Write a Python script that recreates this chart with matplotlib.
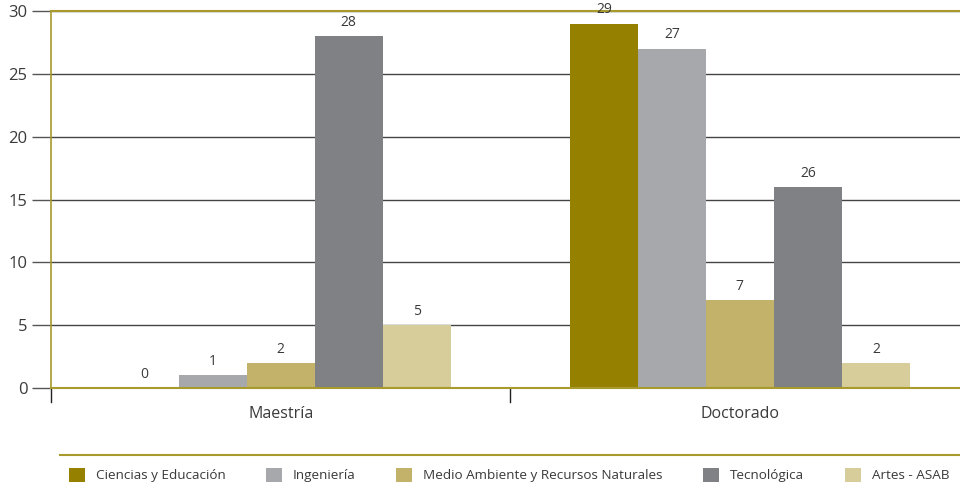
import matplotlib.pyplot as plt
from matplotlib.patches import Patch
from matplotlib.lines import Line2D
import numpy as np

plt.rcParams['font.family'] = ['Open Sans', 'DejaVu Sans']

niveles = ['Maestría', 'Doctorado']
facultades = ['Ciencias y Educación', 'Ingeniería', 'Medio Ambiente y Recursos Naturales',
              'Tecnológica', 'Artes - ASAB']
colores = ['#968000', '#a7a8ac', '#c2b26a', '#808184', '#d7cd9a']

# alturas de las barras (como aparecen) y etiquetas impresas
alturas = {
    'Ciencias y Educación': [0, 29],
    'Ingeniería': [1, 27],
    'Medio Ambiente y Recursos Naturales': [2, 7],
    'Tecnológica': [28, 16],
    'Artes - ASAB': [5, 2],
}
etiquetas = {
    'Ciencias y Educación': ['0', '29'],
    'Ingeniería': ['1', '27'],
    'Medio Ambiente y Recursos Naturales': ['2', '7'],
    'Tecnológica': ['28', '26'],
    'Artes - ASAB': ['5', '2'],
}

oro = '#a89a2c'
texto = '#3a3a3a'

fig = plt.figure(figsize=(9.6, 4.87), dpi=100)
ax = fig.add_axes([51 / 960, 1 - 388 / 487, (969.5 - 51) / 960, (388 - 11) / 487])

x = np.arange(len(niveles))
ancho = 0.148
for i, fac in enumerate(facultades):
    pos = x + (i - 2) * ancho
    ax.bar(pos, alturas[fac], width=ancho, color=colores[i], zorder=3)
    for p, h, et in zip(pos, alturas[fac], etiquetas[fac]):
        ax.text(p, h + 0.5, et, ha='center', va='bottom', fontsize=10, color=texto, zorder=4)

ax.set_xlim(-0.5, 1.5)
ax.set_ylim(0, 30)
ax.set_yticks(range(0, 31, 5))
ax.yaxis.grid(True, color='#444444', linewidth=1.0, zorder=1)
ax.set_axisbelow(True)

for s in ['right', 'bottom']:
    ax.spines[s].set_visible(False)
ax.spines['left'].set_color(oro)
ax.spines['top'].set_color(oro)
ax.spines['left'].set_linewidth(1.2)
ax.spines['top'].set_linewidth(1.5)
ax.axhline(0, color=oro, linewidth=1.5, zorder=5, clip_on=False)

ax.tick_params(axis='y', length=14, width=1, color='#555555', labelsize=12, labelcolor=texto, pad=3)
ax.set_xticks(x)
ax.set_xticklabels(niveles, fontsize=11.5, color=texto)
ax.tick_params(axis='x', length=0, pad=13)

# marcas de separacion de categorias
for b in [-0.5, 0.5, 1.5]:
    ax.plot([b, b], [0, -1.15], color='#222222', linewidth=1, clip_on=False)

# linea y leyenda inferior
fig.add_artist(Line2D([60 / 960, 1.0], [1 - 455 / 487, 1 - 455 / 487], color=oro, linewidth=1.5))
handles = [Patch(facecolor=c, edgecolor='none') for c in colores]
fig.legend(handles, facultades, loc='center left', bbox_to_anchor=(69 / 960, 1 - 475 / 487),
           ncol=5, frameon=False, fontsize=9.7, handlelength=1.2, handleheight=1.3,
           handletextpad=0.8, columnspacing=3.0, labelcolor=texto, borderaxespad=0,
           borderpad=0)

fig.savefig('out.png', dpi=100)
